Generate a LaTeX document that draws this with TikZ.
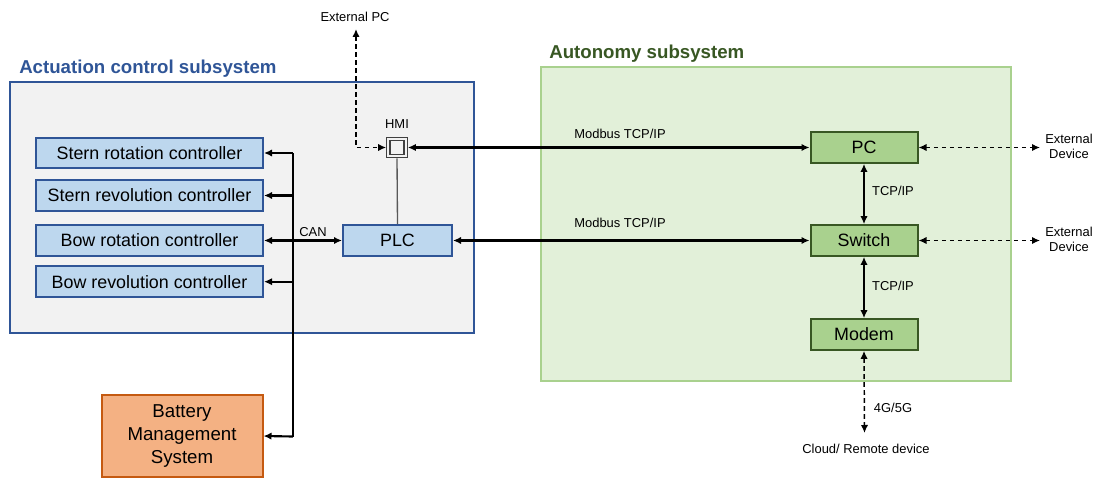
\documentclass[tikz,border=0pt]{standalone}
\usepackage{fontspec}
\setmainfont{Liberation Sans}
\usetikzlibrary{arrows.meta}
\definecolor{blueB}{HTML}{2F5597}
\definecolor{blueF}{HTML}{BDD7EE}
\definecolor{grayF}{HTML}{F2F2F2}
\definecolor{greenF}{HTML}{E2F0D9}
\definecolor{greenB}{HTML}{A9D18E}
\definecolor{greenBox}{HTML}{A9D18E}
\definecolor{greenD}{HTML}{385723}
\definecolor{orangeF}{HTML}{F4B183}
\definecolor{orangeB}{HTML}{C55A11}
\begin{document}
\begin{tikzpicture}[x=0.75pt,y=-0.75pt,
  boxtext/.style={font=\fontsize{13.4}{15}\selectfont},
  small/.style={font=\fontsize{9.7}{11.25}\selectfont, inner sep=0pt, align=center},
  ctrl/.style={boxtext, draw=blueB, fill=blueF, line width=1.5pt, minimum width=170.25pt, minimum height=23pt, inner sep=0pt},
  plcbox/.style={boxtext, draw=blueB, fill=blueF, line width=1.5pt, minimum width=81.75pt, minimum height=23pt, inner sep=0pt},
  gbox/.style={boxtext, draw=greenD, fill=greenBox, line width=1.5pt, minimum width=80.25pt, minimum height=23pt, inner sep=0pt},
  title/.style={font=\fontsize{14}{16}\selectfont\bfseries, inner sep=0pt, anchor=west},
  solid2/.style={line width=1.6pt, {Latex[length=6pt,width=5.5pt]}-{Latex[length=6pt,width=5.5pt]}},
  solid1/.style={line width=1.6pt, -{Latex[length=6pt,width=5.5pt]}},
  dash2/.style={line width=1.1pt, dash pattern=on 3.5pt off 2.5pt, {Latex[length=6pt,width=5.5pt]}-{Latex[length=6pt,width=5.5pt]}}
]
\useasboundingbox (0,0) rectangle (1095,478);

% containers
\node[draw=blueB, fill=grayF, line width=1.5pt, minimum width=348pt, minimum height=187.5pt] (act) at (242,207.5) {};
\node[draw=greenB, fill=greenF, line width=1.5pt, minimum width=352.5pt, minimum height=235.5pt] (aut) at (776,224) {};
\node[title, text=blueB] (acttitle) at (19,68.5) {Actuation control subsystem};
\node[title, text=greenD] (auttitle) at (549,53.5) {Autonomy subsystem};

% controllers
\node[ctrl] (c1) at (149.5,153) {Stern rotation controller};
\node[ctrl] (c2) at (149.5,195.5) {Stern revolution controller};
\node[ctrl] (c3) at (149.5,240.5) {Bow rotation controller};
\node[ctrl] (c4) at (149.5,281.7) {Bow revolution controller};

\node[plcbox] (plc) at (397.5,240.5) {PLC};

% HMI
\node[draw=black!75, fill=grayF, line width=0.8pt, minimum size=15.5pt, inner sep=0pt] (hmi) at (397,147.5) {};
\node[draw=black!75, fill=grayF, line width=0.8pt, minimum size=10.5pt, inner sep=0pt] (hmiin) at (hmi.center) {};
\node[small] (hmil) at (397,124.5) {HMI};
\draw[black!65, line width=1pt] (hmi.south) -- (plc.north);

% BMS
\node[draw=orangeB, fill=orangeF, line width=1.5pt, minimum width=120.75pt, minimum height=61.5pt, align=center, font=\fontsize{14}{17.25}\selectfont] (bms) at (182,436) {Battery\\Management\\System};

% bus
\coordinate (b1) at (293,153);
\coordinate (b5) at (293,436.5);
\draw[line width=1.6pt] (b1) -- (b5);
\draw[solid1] (b1) -- (c1.east);
\draw[solid1] (c2.east -| b1) -- (c2.east);
\draw[solid1] (c4.east -| b1) -- (c4.east);
\draw[solid1] (b5) -- (bms.east);
\draw[solid2] (c3.east) -- (plc.west);
\node[small] (can) at (313,232) {CAN};

% external PC
\node[small] (extpc) at (355,16.5) {External PC};
\coordinate (epc) at (356,29);
\draw[dash2] (epc) |- (hmi.west);

% autonomy boxes
\node[gbox] (pc) at (864,147.5) {PC};
\node[gbox] (sw) at (864,240.5) {Switch};
\node[gbox] (modem) at (864,334.5) {Modem};

\draw[solid2] (hmi.east) -- (pc.west);
\node[small] (mb1) at (620,133.5) {Modbus TCP/IP};
\draw[solid2] (plc.east) -- (sw.west);
\node[small] (mb2) at (620,222.5) {Modbus TCP/IP};

\draw[solid2] (pc.south) -- (sw.north);
\node[small] (tcp1) at (893,191) {TCP/IP};
\draw[solid2] (sw.south) -- (modem.north);
\node[small] (tcp2) at (893,285.5) {TCP/IP};

% external devices
\coordinate (ed1) at (1040,147.5);
\coordinate (ed2) at (1040,240.5);
\draw[dash2] (pc.east) -- (ed1);
\draw[dash2] (sw.east) -- (ed2);
\node[small] (edl1) at (1069,146) {External\\Device};
\node[small] (edl2) at (1069,239.5) {External\\Device};

% cloud
\coordinate (cl) at (864.5,433);
\draw[dash2] (modem.south) -- (cl);
\node[small] (g45) at (893,408) {4G/5G};
\node[small] (cloud) at (866,448.5) {Cloud/ Remote device};
\end{tikzpicture}
\end{document}
